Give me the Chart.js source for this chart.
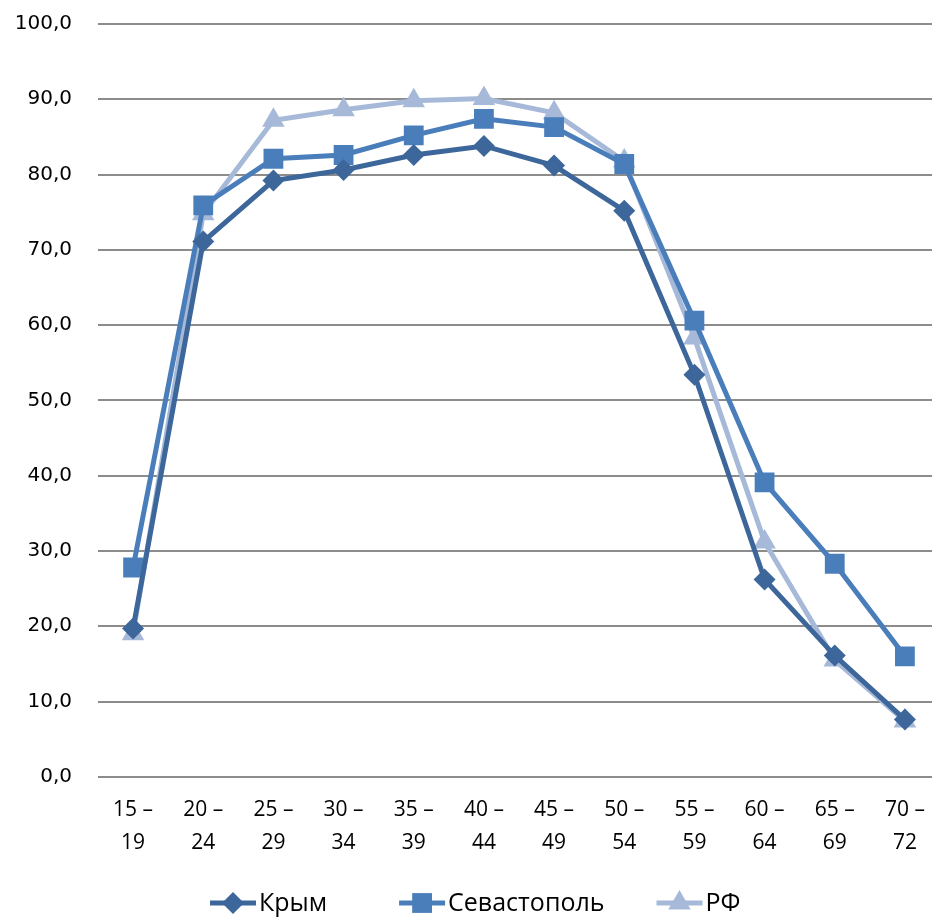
<!DOCTYPE html>
<html>
<head>
<meta charset="utf-8">
<script src="https://cdn.jsdelivr.net/npm/chart.js@4/dist/chart.umd.min.js"></script>
<style>
  html, body { margin: 0; padding: 0; background: #fff; overflow: hidden; }
  #wrap { width: 932px; height: 919px; overflow: hidden; }
</style>
</head>
<body>
<div id="wrap"><canvas id="chart" width="954" height="919"></canvas></div>
<script>
const ageGroups = [['15 –', '19'], ['20 –', '24'], ['25 –', '29'], ['30 –', '34'], ['35 –', '39'], ['40 –', '44'],
  ['45 –', '49'], ['50 –', '54'], ['55 –', '59'], ['60 –', '64'], ['65 –', '69'], ['70 –', '72']];
const crimea = [19.7, 71.1, 79.2, 80.6, 82.6, 83.8, 81.2, 75.2, 53.4, 26.2, 16.1, 7.6];
const sevastopol = [27.8, 75.9, 82.1, 82.6, 85.2, 87.4, 86.3, 81.4, 60.6, 39.1, 28.3, 16.0];
const russia = [19.0, 74.8, 87.2, 88.6, 89.8, 90.1, 88.2, 81.8, 58.3, 31.2, 15.5, 7.4];

const labelFont = '"Open Sans", sans-serif';

// legend drawn as line + marker + text, like the original
const lineLegend = {
  id: 'lineLegend',
  afterDraw(chart) {
    const ctx = chart.ctx;
    const y = 903;
    const lineLen = 46, gap = 3, spacings = [72, 52];
    ctx.save();
    ctx.font = '25px ' + labelFont;
    let x = 210;
    chart.data.datasets.forEach((ds, i) => {
      ctx.strokeStyle = ds.borderColor;
      ctx.lineWidth = 5;
      ctx.beginPath();
      ctx.moveTo(x, y);
      ctx.lineTo(x + lineLen, y);
      ctx.stroke();
      ctx.fillStyle = ds.backgroundColor;
      Chart.helpers.drawPoint(ctx, { pointStyle: ds.pointStyle, rotation: 0, radius: ds.pointRadius, borderWidth: 0 }, x + lineLen / 2, y);
      ctx.fillStyle = '#000';
      ctx.textBaseline = 'middle';
      ctx.textAlign = 'left';
      ctx.fillText(ds.label, x + lineLen + gap, y + 1);
      x += lineLen + gap + ctx.measureText(ds.label).width + (spacings[i] || 0);
    });
    ctx.restore();
  }
};

new Chart(document.getElementById('chart'), {
  type: 'line',
  data: {
    labels: ageGroups,
    datasets: [
      {
        label: 'Крым',
        data: crimea,
        borderColor: '#3d679b',
        backgroundColor: '#3d679b',
        borderWidth: 5,
        pointStyle: 'rectRot',
        pointRadius: 11,
        pointBorderWidth: 0
      },
      {
        label: 'Севастополь',
        data: sevastopol,
        borderColor: '#4a7ebb',
        backgroundColor: '#4a7ebb',
        borderWidth: 5,
        pointStyle: 'rect',
        pointRadius: 14,
        pointBorderWidth: 0
      },
      {
        label: 'РФ',
        data: russia,
        borderColor: '#a6b9d8',
        backgroundColor: '#a6b9d8',
        borderWidth: 5,
        pointStyle: 'triangle',
        pointRadius: 13,
        pointBorderWidth: 0
      }
    ]
  },
  options: {
    responsive: false,
    animation: false,
    layout: { padding: { top: 24, right: 0, bottom: 59, left: 0 } },
    plugins: {
      legend: { display: false },
      tooltip: { enabled: false }
    },
    scales: {
      x: {
        offset: true,
        grid: { display: true, drawOnChartArea: false, tickLength: 16, tickColor: 'rgba(0,0,0,0)' },
        border: { display: false },
        ticks: {
          color: '#000',
          font: { family: labelFont, size: 21, lineHeight: 1.6 },
          maxRotation: 0,
          autoSkip: false,
          padding: 0
        }
      },
      y: {
        min: 0,
        max: 100,
        afterFit(scale) { scale.width = 98; },
        grid: { color: '#8c8c8c', lineWidth: 2, tickLength: 18, tickColor: 'rgba(0,0,0,0)' },
        border: { display: false },
        ticks: {
          stepSize: 10,
          color: '#000',
          padding: 8,
          font: { family: '"DejaVu Sans", Verdana, sans-serif', size: 20 },
          callback: v => v.toFixed(1).replace('.', ',')
        }
      }
    }
  },
  plugins: [lineLegend]
});
</script>
</body>
</html>
